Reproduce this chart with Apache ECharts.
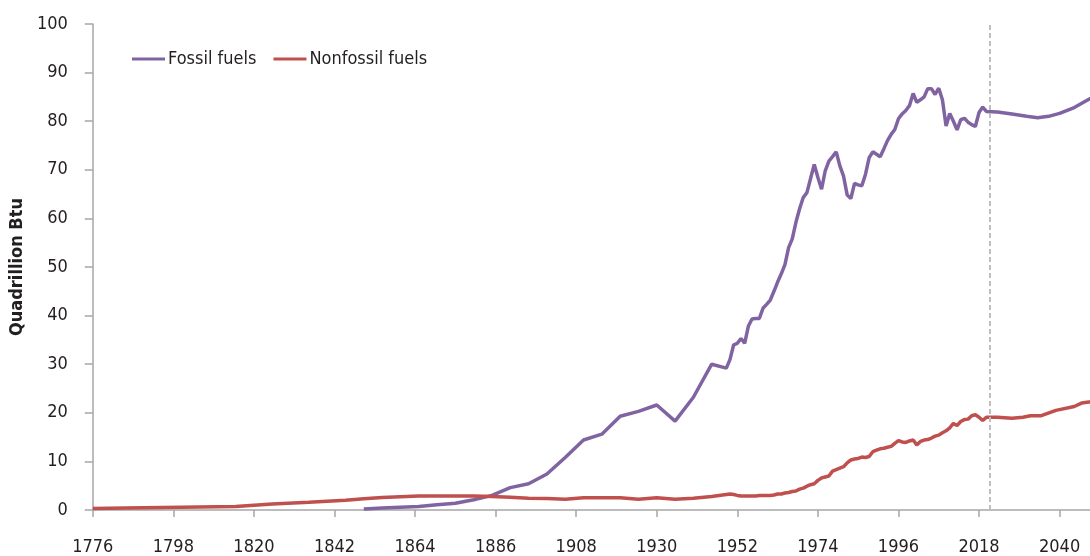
<!DOCTYPE html>
<html>
<head>
<meta charset="utf-8">
<script src="https://cdn.jsdelivr.net/npm/echarts@6/dist/echarts.min.js"></script>
<style>
  html, body { margin: 0; padding: 0; background: #fff; }
  #main { width: 1090px; height: 556px; }
</style>
</head>
<body>
<div id="main"></div>
<script>
var tickYears = [1776, 1798, 1820, 1842, 1864, 1886, 1908, 1930, 1952, 1974, 1996, 2018, 2040];
var projectionStart = 2021;

var fossilYears = [1850, 1855, 1860, 1865, 1870, 1875, 1880, 1885, 1890, 1895, 1900, 1905, 1910, 1915, 1920, 1925, 1930, 1935, 1940, 1945,
  1949, 1950, 1951, 1952, 1953, 1954, 1955, 1956, 1957, 1958, 1959, 1960, 1961, 1962, 1963, 1964, 1965, 1966, 1967, 1968, 1969,
  1970, 1971, 1972, 1973, 1974, 1975, 1976, 1977, 1978, 1979, 1980, 1981, 1982, 1983, 1984, 1985, 1986, 1987, 1988, 1989,
  1990, 1991, 1992, 1993, 1994, 1995, 1996, 1997, 1998, 1999, 2000, 2001, 2002, 2003, 2004, 2005, 2006, 2007, 2008, 2009,
  2010, 2011, 2012, 2013, 2014, 2015, 2016, 2017, 2018, 2019, 2020,
  2023, 2027, 2031, 2034, 2037, 2040, 2044, 2048, 2050];
var fossilValues = [0.2, 0.4, 0.55, 0.7, 1.1, 1.4, 2.1, 3.0, 4.6, 5.4, 7.4, 10.8, 14.4, 15.6, 19.3, 20.3, 21.6, 18.3, 23.2, 30.0,
  29.2, 31.0, 34.0, 34.3, 35.3, 34.3, 37.8, 39.3, 39.4, 39.4, 41.5, 42.3, 43.2, 45.0, 46.9, 48.6, 50.5, 54.0, 55.8, 59.2, 62.0,
  64.3, 65.3, 68.2, 71.1, 68.4, 66.0, 69.8, 71.8, 72.7, 73.7, 70.8, 68.7, 64.8, 64.1, 67.2, 66.9, 66.7, 69.1, 72.5, 73.7,
  73.2, 72.7, 74.3, 76.0, 77.3, 78.3, 80.5, 81.5, 82.2, 83.2, 85.7, 83.9, 84.4, 85.0, 86.7, 86.7, 85.5, 86.8, 84.4, 79.0,
  81.6, 80.0, 78.2, 80.3, 80.6, 79.8, 79.3, 78.9, 81.8, 82.9, 82.0,
  81.9, 81.5, 81.0, 80.7, 81.0, 81.6, 82.8, 84.5, 85.4];

var nonfossilYears = [1776, 1785, 1795, 1805, 1815, 1825, 1835, 1845, 1850, 1855, 1860, 1865, 1870, 1875, 1880, 1885, 1890, 1895, 1900,
  1905, 1910, 1915, 1920, 1925, 1930, 1935, 1940, 1945,
  1949, 1950, 1951, 1952, 1953, 1954, 1955, 1956, 1957, 1958, 1959, 1960, 1961, 1962, 1963, 1964, 1965, 1966, 1967, 1968, 1969,
  1970, 1971, 1972, 1973, 1974, 1975, 1976, 1977, 1978, 1979, 1980, 1981, 1982, 1983, 1984, 1985, 1986, 1987, 1988, 1989,
  1990, 1991, 1992, 1993, 1994, 1995, 1996, 1997, 1998, 1999, 2000, 2001, 2002, 2003, 2004, 2005, 2006, 2007, 2008, 2009,
  2010, 2011, 2012, 2013, 2014, 2015, 2016, 2017, 2018, 2019, 2020,
  2023, 2027, 2030, 2032, 2035, 2039, 2044, 2046, 2048, 2050];
var nonfossilValues = [0.3, 0.4, 0.5, 0.6, 0.7, 1.25, 1.6, 2.0, 2.3, 2.55, 2.75, 2.9, 2.9, 2.9, 2.9, 2.8, 2.6, 2.4, 2.35,
  2.2, 2.5, 2.5, 2.5, 2.2, 2.5, 2.2, 2.4, 2.8,
  3.2, 3.3, 3.2, 3.0, 2.9, 2.9, 2.9, 2.9, 2.9, 3.0, 3.0, 3.0, 3.0, 3.1, 3.3, 3.3, 3.5, 3.6, 3.8, 3.9, 4.3,
  4.5, 4.9, 5.2, 5.4, 6.1, 6.6, 6.8, 7.0, 8.0, 8.3, 8.6, 8.9, 9.7, 10.3, 10.5, 10.6, 10.9, 10.8, 11.0, 12.0,
  12.3, 12.6, 12.7, 12.9, 13.1, 13.7, 14.3, 14.0, 13.9, 14.2, 14.4, 13.4, 14.1, 14.4, 14.5, 14.8, 15.2, 15.4, 15.9, 16.3,
  16.9, 17.8, 17.4, 18.2, 18.6, 18.7, 19.4, 19.6, 19.1, 18.4, 19.1,
  19.1, 18.9, 19.1, 19.4, 19.4, 20.5, 21.3, 22.0, 22.2, 22.5];

function pairs(xs, ys) {
  var out = [];
  for (var i = 0; i < xs.length; i++) out.push([xs[i], ys[i]]);
  return out;
}

var font = "'DejaVu Sans Condensed', 'Liberation Sans Narrow', sans-serif";
var axisGrey = '#a6a6a6';
var textColor = '#231f20';

var myChart = echarts.init(document.getElementById('main'));
var option = {
  animation: false,
  textStyle: { fontFamily: font },
  grid: { left: 92, right: 0, top: 24, bottom: 44 },
  legend: {
    left: 127,
    top: 45,
    icon: 'rect',
    itemWidth: 33,
    itemHeight: 3,
    itemGap: 17,
    textStyle: { fontFamily: font, fontSize: 18, color: textColor, padding: [0, 0, 0, -2] },
    data: ['Fossil fuels', 'Nonfossil fuels']
  },
  xAxis: {
    type: 'value',
    min: 1776,
    max: 2048.3,
    axisLine: { lineStyle: { color: axisGrey, width: 1.5 } },
    axisTick: { length: 7, lineStyle: { color: axisGrey, width: 1.5 }, customValues: tickYears },
    axisLabel: {
      customValues: tickYears,
      fontSize: 18,
      color: textColor,
      margin: 28,
      fontFamily: font,
      formatter: function (v) { return String(v); }
    },
    splitLine: { show: false }
  },
  yAxis: {
    type: 'value',
    min: 0,
    max: 100,
    interval: 10,
    name: 'Quadrillion Btu',
    nameLocation: 'middle',
    nameGap: 66,
    nameTextStyle: { fontSize: 18, fontWeight: 'bold', color: textColor, fontFamily: font },
    axisLine: { show: true, lineStyle: { color: axisGrey, width: 1.5 } },
    axisTick: { show: true, length: 8, lineStyle: { color: axisGrey, width: 1.5 } },
    axisLabel: { fontSize: 18, color: textColor, margin: 25, fontFamily: font },
    splitLine: { show: false }
  },
  series: [
    {
      name: 'Fossil fuels',
      type: 'line',
      showSymbol: false,
      color: '#8064a2',
      lineStyle: { width: 3.5, color: '#8064a2' },
      data: pairs(fossilYears, fossilValues),
      markLine: {
        silent: true,
        symbol: 'none',
        label: { show: false },
        lineStyle: { color: '#bfbfbf', width: 2, type: [5, 3] },
        data: [{ xAxis: projectionStart }]
      }
    },
    {
      name: 'Nonfossil fuels',
      type: 'line',
      showSymbol: false,
      color: '#c0504d',
      lineStyle: { width: 3.5, color: '#c0504d' },
      data: pairs(nonfossilYears, nonfossilValues)
    }
  ]
};
myChart.setOption(option);
</script>
</body>
</html>
